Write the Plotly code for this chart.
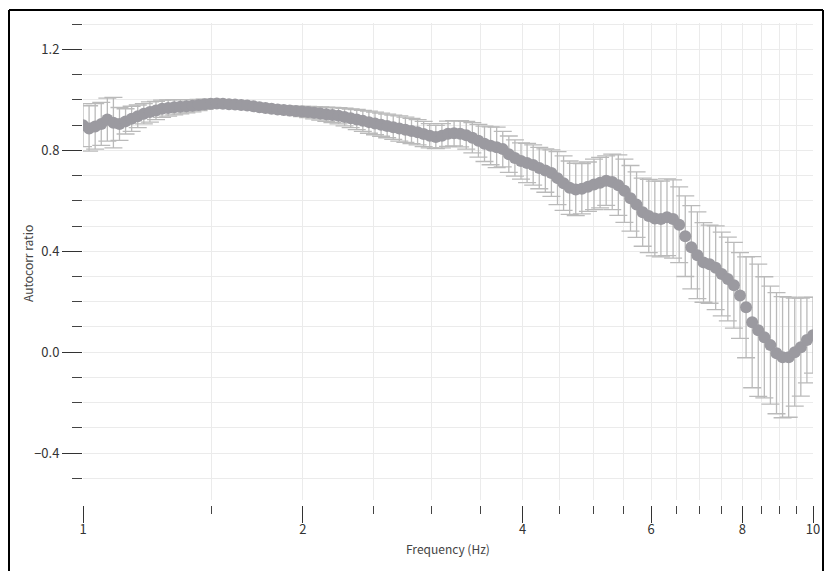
import plotly.graph_objects as go

# Frequencies (Hz), log-spaced from 1 to 10
freq = [
    1.0000, 1.0194, 1.0391, 1.0593, 1.0798, 1.1007, 1.1220, 1.1437, 1.1658, 1.1885,
    1.2115, 1.2350, 1.2589, 1.2833, 1.3081, 1.3335, 1.3593, 1.3857, 1.4125, 1.4399,
    1.4678, 1.4962, 1.5252, 1.5548, 1.5849, 1.6156, 1.6469, 1.6788, 1.7113, 1.7445,
    1.7783, 1.8127, 1.8478, 1.8836, 1.9201, 1.9573, 1.9953, 2.0339, 2.0733, 2.1135,
    2.1544, 2.1962, 2.2387, 2.2821, 2.3263, 2.3714, 2.4173, 2.4641, 2.5119, 2.5606,
    2.6102, 2.6607, 2.7122, 2.7647, 2.8184, 2.8730, 2.9286, 2.9854, 3.0432, 3.1022,
    3.1623, 3.2236, 3.2860, 3.3497, 3.4146, 3.4807, 3.5481, 3.6168, 3.6869, 3.7584,
    3.8312, 3.9054, 3.9811, 4.0582, 4.1368, 4.2170, 4.2987, 4.3820, 4.4668, 4.5533,
    4.6415, 4.7315, 4.8232, 4.9166, 5.0119, 5.1090, 5.2080, 5.3088, 5.4116, 5.5165,
    5.6234, 5.7323, 5.8434, 5.9566, 6.0720, 6.1896, 6.3096, 6.4318, 6.5564, 6.6834,
    6.8129, 6.9449, 7.0795, 7.2166, 7.3564, 7.4989, 7.6442, 7.7922, 7.9433, 8.0972,
    8.2540, 8.4140, 8.5770, 8.7431, 8.9125, 9.0851, 9.2611, 9.4406, 9.6235, 9.8099,
    10.000,
]

# Autocorrelation ratio (mean)
ratio = [
    0.900, 0.887, 0.895, 0.905, 0.922, 0.910, 0.905, 0.915, 0.925, 0.935,
    0.945, 0.952, 0.958, 0.965, 0.968, 0.971, 0.973, 0.975, 0.977, 0.980,
    0.983, 0.985, 0.986, 0.985, 0.983, 0.982, 0.980, 0.978, 0.975, 0.971,
    0.968, 0.965, 0.962, 0.960, 0.958, 0.956, 0.954, 0.952, 0.949, 0.946,
    0.943, 0.940, 0.937, 0.932, 0.927, 0.922, 0.917, 0.912, 0.907, 0.902,
    0.897, 0.892, 0.887, 0.882, 0.877, 0.872, 0.865, 0.858, 0.853, 0.858,
    0.866, 0.868, 0.866, 0.860, 0.850, 0.838, 0.826, 0.818, 0.812, 0.805,
    0.785, 0.770, 0.758, 0.750, 0.742, 0.730, 0.720, 0.710, 0.690, 0.670,
    0.652, 0.645, 0.648, 0.656, 0.665, 0.672, 0.680, 0.675, 0.662, 0.640,
    0.610, 0.585, 0.555, 0.540, 0.530, 0.528, 0.535, 0.528, 0.505, 0.460,
    0.416, 0.384, 0.356, 0.349, 0.335, 0.310, 0.290, 0.265, 0.225, 0.178,
    0.119, 0.087, 0.059, 0.028, -0.004, -0.020, -0.020, 0.000, 0.020, 0.048,
    0.067,
]

# Standard deviation (error bar half-length)
ratio_err = [
    0.085, 0.090, 0.090, 0.085, 0.085, 0.100, 0.065, 0.050, 0.050, 0.045,
    0.040, 0.040, 0.036, 0.034, 0.032, 0.030, 0.028, 0.026, 0.024, 0.022,
    0.020, 0.015, 0.014, 0.013, 0.013, 0.012, 0.012, 0.012, 0.012, 0.012,
    0.012, 0.013, 0.014, 0.015, 0.016, 0.018, 0.020, 0.022, 0.024, 0.026,
    0.028, 0.030, 0.032, 0.035, 0.037, 0.040, 0.042, 0.044, 0.045, 0.046,
    0.047, 0.048, 0.050, 0.050, 0.050, 0.050, 0.050, 0.048, 0.046, 0.048,
    0.050, 0.050, 0.052, 0.055, 0.060, 0.065, 0.070, 0.075, 0.080, 0.070,
    0.072, 0.072, 0.072, 0.078, 0.080, 0.082, 0.086, 0.092, 0.105, 0.108,
    0.106, 0.104, 0.100, 0.098, 0.100, 0.100, 0.098, 0.110, 0.120, 0.125,
    0.130, 0.130, 0.135, 0.145, 0.148, 0.150, 0.152, 0.155, 0.150, 0.160,
    0.165, 0.172, 0.158, 0.155, 0.166, 0.166, 0.166, 0.170, 0.170, 0.200,
    0.260, 0.262, 0.240, 0.234, 0.240, 0.240, 0.238, 0.214, 0.194, 0.170,
    0.150,
]

x_major = [1, 2, 4, 6, 8, 10]
x_major_text = ["1", "2", "4", "6", "8", "10"]
x_minor = [1.5, 2.5, 3, 3.5, 4.5, 5, 5.5, 6.5, 7, 7.5, 8.5, 9, 9.5]

x_title = "Frequency (Hz)"
y_title = "Autocorr ratio"

FONT = "Noto Sans CJK JP"

fig = go.Figure()
fig.add_trace(go.Scatter(
    x=freq, y=ratio, mode="markers",
    marker=dict(size=12, color="#9b9aa0", line=dict(width=0)),
    error_y=dict(type="data", array=ratio_err, visible=True,
                 color="#bababa", thickness=1.3, width=9),
    showlegend=False, cliponaxis=True,
))

W, H = 825, 571
l, r, t, b = 83, 12, 23, 66
pw = W - l - r
ph = H - t - b

def px_x(p):
    return (p - l) / pw

def px_y(p):
    return (H - b - p) / ph

# outer frame
frame = dict(type="line", xref="paper", yref="paper", line=dict(color="black", width=2))
x0, x1 = px_x(9), px_x(823)
y0, y1 = px_y(10), px_y(590)
fig.add_shape(x0=x0, x1=x0, y0=y0, y1=y1, **frame)
fig.add_shape(x0=x1, x1=x1, y0=y0, y1=y1, **frame)
fig.add_shape(x0=x0, x1=x1, y0=y0, y1=y0, **frame)

# axis titles
fig.add_annotation(text=x_title, xref="paper", yref="paper", x=0.5, y=px_y(548),
                   xanchor="center", yanchor="middle", showarrow=False,
                   font=dict(size=12, color="#444444", family=FONT))
fig.add_annotation(text=y_title, xref="paper", yref="paper", x=px_x(27), y=px_y(264),
                   xanchor="center", yanchor="middle", showarrow=False, textangle=-90,
                   font=dict(size=12, color="#444444", family=FONT))

fig.update_layout(
    width=W, height=H,
    margin=dict(l=l, r=r, t=t, b=b, autoexpand=False),
    paper_bgcolor="white", plot_bgcolor="white",
    font=dict(family=FONT, color="#333333", size=13),
    xaxis=dict(
        type="log", range=[0, 1], automargin=False,
        anchor="free", position=0,
        tickmode="array", tickvals=x_major, ticktext=x_major_text,
        ticks="outside", ticklen=17, tickwidth=1, tickcolor="#333333",
        ticklabelstandoff=-5,
        showgrid=True, gridcolor="#ebebeb", gridwidth=1,
        minor=dict(tickmode="array", tickvals=x_minor, ticks="outside",
                   ticklen=8, tickwidth=1, tickcolor="#444444",
                   showgrid=True, gridcolor="#ebebeb", gridwidth=1),
        showline=False, zeroline=False,
        tickfont=dict(size=13, color="#333333"),
    ),
    yaxis=dict(
        domain=[5 / ph, 1], automargin=False,
        range=[-0.586, 1.305],
        tickmode="linear", tick0=0, dtick=0.4,
        tickformat=".1f",
        ticks="outside", ticklen=20, tickwidth=1, tickcolor="#333333",
        showgrid=True, gridcolor="#ebebeb", gridwidth=1,
        minor=dict(dtick=0.1, tick0=0, ticks="outside", ticklen=10, tickwidth=1,
                   tickcolor="#444444", showgrid=True, gridcolor="#ebebeb", gridwidth=1),
        showline=False, zeroline=False,
        tickfont=dict(size=13, color="#333333"),
    ),
)

fig.write_html("out.html")
